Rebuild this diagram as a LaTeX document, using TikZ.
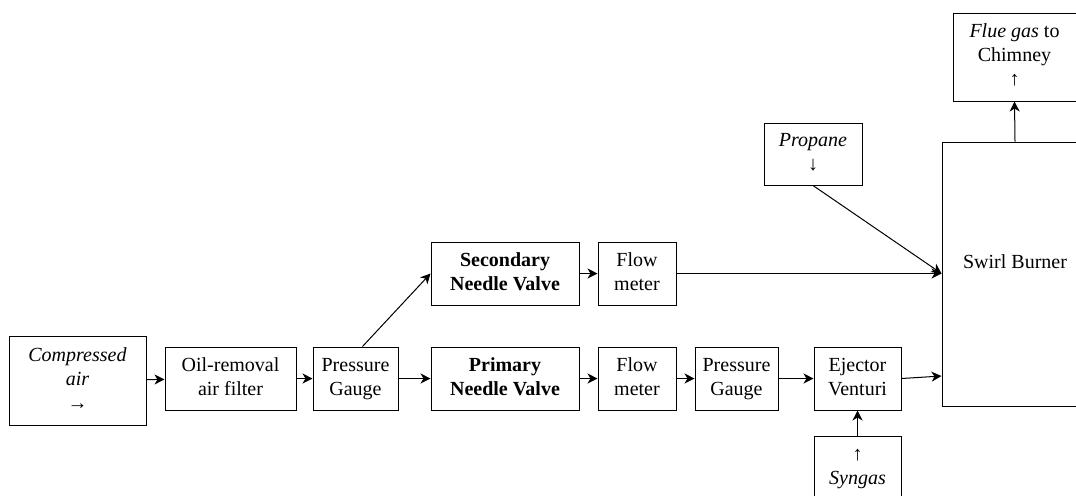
\documentclass[tikz,border=0pt]{standalone}
\usepackage{fontspec}
\setmainfont{Liberation Serif}
\usetikzlibrary{arrows.meta}
\tikzset{
  caja/.style={draw, align=center, inner sep=2pt, minimum height=31.5pt,
    text height=19pt, text depth=2.5pt},
  flecha/.style={-{Stealth[length=5pt,width=5pt,inset=1.5pt]}}
}
\begin{document}
\begin{tikzpicture}[x=0.5pt, y=-0.5pt, line width=0.5pt]
\useasboundingbox (0,0) rectangle (1076,495);

% Aire comprimido
\node[caja, minimum width=68.5pt, minimum height=44.5pt, text height=31pt] (aire) at (77.5,380.5) {\textit{Compressed}\\\textit{air}\\→};

% Filtro
\node[caja, minimum width=65.5pt] (filtro) at (230.5,378.5) {Oil-removal\\air filter};

% Manometro 1
\node[caja, minimum width=42.5pt] (mano1) at (355.5,378.5) {Pressure\\Gauge};

% Valvulas
\node[caja, minimum width=74pt] (valv1) at (505,378.5) {\textbf{Primary}\\\textbf{Needle Valve}};
\node[caja, minimum width=74pt] (valv2) at (505,273.5) {\textbf{Secondary}\\\textbf{Needle Valve}};

% Caudalimetros
\node[caja, minimum width=39pt] (caudal1) at (637,378.5) {Flow\\meter};
\node[caja, minimum width=39pt] (caudal2) at (637,273.5) {Flow\\meter};

% Manometro 2
\node[caja, minimum width=41.5pt] (mano2) at (736.5,378.5) {Pressure\\Gauge};

% Eyector
\node[caja, minimum width=43.5pt] (eyector) at (857.5,378.5) {Ejector\\Venturi};

% Singas
\node[caja, minimum width=43.5pt] (singas) at (857.5,467.5) {↑\\\textit{Syngas}};

% Propano
\node[caja, minimum width=49pt, minimum height=31pt] (propano) at (813,154) {\textit{Propane}\\↓};

% Quemador
\node[draw, minimum width=73pt, minimum height=132pt] (quemador) at (1015,274) {};
\node at ([yshift=6pt]quemador.center) {Swirl Burner};

% Chimenea
\node[caja, minimum width=61.5pt, minimum height=44pt, text height=31pt] (chimenea) at (1014.5,57) {\textit{Flue gas} to\\Chimney\\↑};

% Linea principal
\draw[flecha] (aire) -- (filtro);
\draw[flecha] (filtro) -- (mano1);
\draw[flecha] (mano1) -- (valv1);
\draw[flecha] (valv1) -- (caudal1);
\draw[flecha] (caudal1) -- (mano2);
\draw[flecha] (mano2) -- (eyector);
\draw[flecha] (eyector.east) -- ([yshift=-51pt]quemador.west);
\draw[flecha] (singas) -- (eyector);

% Linea secundaria
\draw[flecha] ([xshift=3.5pt]mano1.north) -- (valv2.west);
\draw[flecha] (valv2) -- (caudal2);
\coordinate (entrada) at (caudal2.east -| quemador.west);
\draw[flecha] (caudal2.east) -- (entrada);
\draw[flecha] (propano.south) -- (entrada);

% Salida
\draw[flecha] (quemador.north) -- (chimenea.south);

\end{tikzpicture}
\end{document}
